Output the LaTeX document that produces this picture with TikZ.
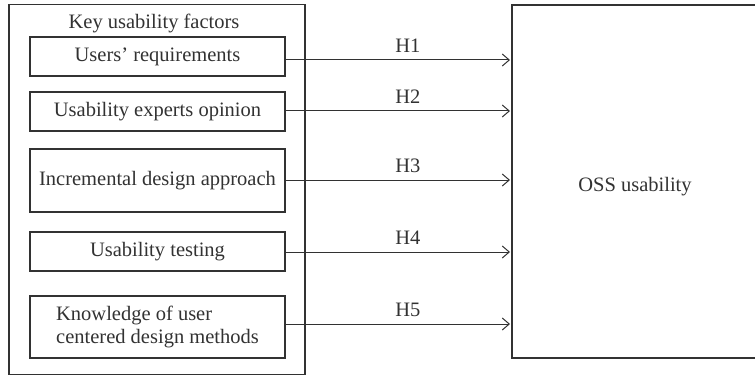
\documentclass[tikz,border=0pt]{standalone}
\usepackage{fontspec}
\setmainfont{Liberation Serif}
\usetikzlibrary{arrows.meta}
\definecolor{ink}{RGB}{50,50,50}
\begin{document}
\begin{tikzpicture}[x=1pt,y=-1pt,
  every node/.style={font=\fontsize{20.5}{23}\selectfont, text=ink},
  factor/.style={draw=ink, line width=1.1pt, inner sep=0pt},
  link/.style={draw=ink, line width=1pt, -{Straight Barb[length=7pt,width=12pt,line width=1pt]}},
  hyp/.style={above=7pt, inner sep=0pt, pos=0.545}]
\useasboundingbox (0,0) rectangle (755,377);
\clip (0,0) rectangle (755,377);
% outer box
\node[draw=ink, line width=1.1pt, minimum width=296pt, minimum height=370pt, inner sep=0pt] (outer) at (157,189.5) {};
\node (title) at (154,23) {Key usability factors};
% factors
\node[factor, minimum width=255pt, minimum height=39pt] (f1) at (157.5,56.5) {Users' requirements};
\node[factor, minimum width=255pt, minimum height=39pt] (f2) at (157.5,111.5) {Usability experts opinion};
\node[factor, minimum width=255pt, minimum height=63pt] (f3) at (157.5,180.5) {Incremental design approach};
\node[factor, minimum width=255pt, minimum height=62pt, align=left] (f5) at (157.5,327) {Knowledge of user\\centered design methods};
\node[factor, minimum width=255pt, minimum height=39pt] (f4) at (157.5,251.5) {Usability testing};
% OSS box
\node[draw=ink, line width=1.1pt, minimum width=260pt, minimum height=353pt, inner sep=0pt] (oss) at (642,181.5) {};
\node (osst) at (635,187) {OSS usability};
% arrows
\coordinate (e1) at (510,60);
\coordinate (e2) at (510,111);
\coordinate (e3) at (510,180);
\coordinate (e4) at (510,252);
\coordinate (e5) at (510,324);
\draw[link] (f1.east |- e1) -- node[hyp] {H1} (e1);
\draw[link] (f2.east |- e2) -- node[hyp] {H2} (e2);
\draw[link] (f3.east |- e3) -- node[hyp] {H3} (e3);
\draw[link] (f4.east |- e4) -- node[hyp] {H4} (e4);
\draw[link] (f5.east |- e5) -- node[hyp] {H5} (e5);
\end{tikzpicture}
\end{document}
